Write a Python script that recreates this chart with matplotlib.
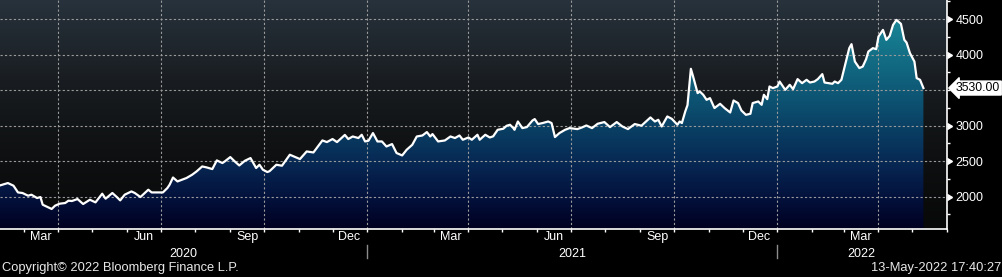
import matplotlib
matplotlib.use("Agg")
from matplotlib import pyplot as plt
from matplotlib.colors import LinearSegmentedColormap
import matplotlib.dates as mdates
import numpy as np
import pandas as pd

dates = [
    "2020-02-09", "2020-02-16", "2020-02-21", "2020-02-25", "2020-02-29", "2020-03-05", "2020-03-08",
    "2020-03-13", "2020-03-16", "2020-03-18", "2020-03-23", "2020-03-26", "2020-03-29", "2020-04-02",
    "2020-04-07", "2020-04-10", "2020-04-13", "2020-04-18", "2020-04-23", "2020-04-29", "2020-05-04",
    "2020-05-10", "2020-05-13", "2020-05-19", "2020-05-23", "2020-05-26", "2020-05-30", "2020-06-05",
    "2020-06-08", "2020-06-13", "2020-06-20", "2020-06-23", "2020-07-03", "2020-07-07", "2020-07-09",
    "2020-07-12", "2020-07-16", "2020-07-20", "2020-07-24", "2020-07-29", "2020-08-02", "2020-08-07",
    "2020-08-11", "2020-08-16", "2020-08-20", "2020-08-25", "2020-08-27", "2020-09-01", "2020-09-05",
    "2020-09-09", "2020-09-14", "2020-09-19", "2020-09-24", "2020-09-27", "2020-09-30", "2020-10-04",
    "2020-10-06", "2020-10-12", "2020-10-17", "2020-10-24", "2020-10-29", "2020-11-02", "2020-11-08",
    "2020-11-14", "2020-11-18", "2020-11-22", "2020-11-26", "2020-12-01", "2020-12-05", "2020-12-09",
    "2020-12-12", "2020-12-15", "2020-12-19", "2020-12-24", "2020-12-27", "2020-12-30", "2021-01-02",
    "2021-01-06", "2021-01-10", "2021-01-14", "2021-01-18", "2021-01-23", "2021-01-27", "2021-02-01",
    "2021-02-05", "2021-02-10", "2021-02-14", "2021-02-19", "2021-02-23", "2021-02-26", "2021-02-28",
    "2021-03-05", "2021-03-11", "2021-03-16", "2021-03-20", "2021-03-24", "2021-03-27", "2021-04-01",
    "2021-04-04", "2021-04-09", "2021-04-11", "2021-04-16", "2021-04-20", "2021-04-23", "2021-04-27",
    "2021-05-02", "2021-05-05", "2021-05-08", "2021-05-11", "2021-05-12", "2021-05-15", "2021-05-19",
    "2021-05-23", "2021-05-28", "2021-05-30", "2021-06-02", "2021-06-06", "2021-06-11", "2021-06-14",
    "2021-06-17", "2021-06-21", "2021-06-26", "2021-06-30", "2021-07-07", "2021-07-11", "2021-07-15",
    "2021-07-20", "2021-07-25", "2021-07-31", "2021-08-05", "2021-08-11", "2021-08-16", "2021-08-21",
    "2021-08-27", "2021-09-02", "2021-09-10", "2021-09-14", "2021-09-17", "2021-09-20", "2021-09-25",
    "2021-09-29", "2021-10-04", "2021-10-06", "2021-10-08", "2021-10-11", "2021-10-13", "2021-10-16",
    "2021-10-18", "2021-10-20", "2021-10-22", "2021-10-24", "2021-10-27", "2021-10-30", "2021-11-02",
    "2021-11-06", "2021-11-11", "2021-11-15", "2021-11-20", "2021-11-23", "2021-11-27", "2021-11-30",
    "2021-12-04", "2021-12-08", "2021-12-10", "2021-12-15", "2021-12-18", "2021-12-20", "2021-12-23",
    "2021-12-25", "2021-12-28", "2022-01-01", "2022-01-03", "2022-01-08", "2022-01-12", "2022-01-15",
    "2022-01-19", "2022-01-23", "2022-01-27", "2022-01-30", "2022-02-03", "2022-02-06", "2022-02-10",
    "2022-02-12", "2022-02-19", "2022-02-21", "2022-02-24", "2022-02-27", "2022-03-03", "2022-03-06",
    "2022-03-08", "2022-03-11", "2022-03-15", "2022-03-18", "2022-03-21", "2022-03-23", "2022-03-27",
    "2022-03-30", "2022-04-01", "2022-04-05", "2022-04-08", "2022-04-11", "2022-04-14", "2022-04-17",
    "2022-04-21", "2022-04-24", "2022-04-26", "2022-04-29", "2022-05-03", "2022-05-05", "2022-05-08",
    "2022-05-11",
]
prices = [
    2159, 2192, 2155, 2060, 2052, 2014, 2028,
    1981, 1995, 1887, 1849, 1827, 1873, 1901,
    1911, 1944, 1939, 1967, 1897, 1957, 1920,
    2042, 1972, 2052, 1995, 1948, 2028, 2074,
    2052, 1995, 2098, 2060, 2060, 2122, 2169,
    2270, 2215, 2239, 2263, 2309, 2356, 2426,
    2412, 2389, 2511, 2474, 2496, 2558, 2496,
    2440, 2506, 2544, 2404, 2450, 2380, 2347,
    2360, 2450, 2436, 2591, 2558, 2530, 2637,
    2623, 2707, 2792, 2769, 2812, 2769, 2826,
    2870, 2812, 2848, 2826, 2872, 2778, 2788,
    2896, 2778, 2778, 2707, 2741, 2615, 2581,
    2661, 2731, 2848, 2862, 2910, 2848, 2882,
    2778, 2792, 2848, 2826, 2862, 2802, 2834,
    2802, 2872, 2802, 2872, 2834, 2850, 2942,
    2957, 2999, 3013, 2966, 2942, 3059, 2966,
    2980, 3073, 3093, 3023, 3037, 3059, 3037,
    2840, 2896, 2942, 2966, 2952, 2975, 3003,
    2966, 3027, 3051, 2980, 3051, 2989, 2952,
    3023, 3000, 3116, 3059, 3083, 2989, 3130,
    3097, 3013, 3059, 3037, 3200, 3290, 3801,
    3692, 3576, 3459, 3481, 3435, 3364, 3388,
    3248, 3308, 3248, 3186, 3355, 3318, 3214,
    3153, 3168, 3318, 3341, 3294, 3435, 3374,
    3552, 3529, 3552, 3622, 3505, 3576, 3515,
    3656, 3599, 3646, 3608, 3622, 3656, 3726,
    3608, 3590, 3622, 3599, 3646, 3903, 4092,
    4148, 3903, 3811, 3833, 3937, 4044, 4092,
    4078, 4255, 4349, 4209, 4265, 4420, 4490,
    4434, 4209, 4171, 4022, 3903, 3670, 3646,
    3530,
]
last_value = 3530.00

y_ticks = [2000, 2500, 3000, 3500, 4000, 4500]
month_names = {3: "Mar", 6: "Jun", 9: "Sep", 12: "Dec"}
years = [2020, 2021, 2022]
footer_left = "Copyright\u00a9 2022 Bloomberg Finance L.P."
footer_right = "13-May-2022 17:40:27"

plt.rcParams["font.family"] = ["Liberation Sans", "DejaVu Sans"]

x = mdates.date2num(pd.to_datetime(dates))
y = np.array(prices, dtype=float)
xmin = mdates.date2num(pd.Timestamp("2020-02-09"))
xmax = mdates.date2num(pd.Timestamp("2022-05-31"))
ymin, ymax = 1545, 4770

fig = plt.figure(figsize=(10.03, 2.77), dpi=100, facecolor="black")
ax = fig.add_axes([0, 48 / 277, 947 / 1003, 229 / 277])

# panel background: dark slate at the top fading to black
bg_cmap = LinearSegmentedColormap.from_list(
    "bg", [(0, "#080808"), (0.35, "#0f1112"), (0.65, "#191d21"), (1, "#27323c")])
ax.imshow(np.linspace(0, 1, 256).reshape(-1, 1), extent=[0, 1, 0, 1], transform=ax.transAxes,
          origin="lower", aspect="auto", cmap=bg_cmap, zorder=0)

# area under the line with a vertical gradient
fill_cmap = LinearSegmentedColormap.from_list(
    "fill", [(0, "#000020"), (0.14, "#03123d"), (0.30, "#072a55"), (0.45, "#0a4165"),
             (0.60, "#0e5876"), (0.76, "#136f86"), (0.92, "#198797"), (1, "#1c92a2")])
poly = ax.fill_between(x, y, ymin, facecolor="none", edgecolor="none")
img = ax.imshow(np.linspace(0, 1, 256).reshape(-1, 1), extent=[xmin, xmax, ymin, ymax],
                origin="lower", aspect="auto", cmap=fill_cmap, zorder=1)
img.set_clip_path(poly.get_paths()[0], ax.transData)

# dotted grid
for v in y_ticks:
    ax.axhline(v, color="#9a9a9a", lw=0.8, ls=(0, (2, 2)), zorder=2)
quarters = pd.date_range("2020-04-01", "2022-04-01", freq="QS")
for q in quarters:
    ax.axvline(mdates.date2num(q), color="#9a9a9a", lw=0.8, ls=(0, (2, 2)), zorder=2)

ax.plot(x, y, color="white", lw=1.6, zorder=3, solid_joinstyle="round")

ax.set_xlim(xmin, xmax)
ax.set_ylim(ymin, ymax)

for s in ["top", "left"]:
    ax.spines[s].set_visible(False)
for s in ["bottom", "right"]:
    ax.spines[s].set_color("white")
    ax.spines[s].set_linewidth(1.2)
    ax.spines[s].set_zorder(4)

# x axis: month ticks, quarter month names centred in month
months = pd.date_range("2020-03-01", "2022-06-01", freq="MS")
ax.set_xticks(mdates.date2num(months))
ax.set_xticklabels([])
lab_pos, lab_txt = [], []
for m in months:
    if m.month in month_names and m < pd.Timestamp("2022-05-01"):
        lab_pos.append(mdates.date2num(m + pd.Timedelta(days=15)))
        lab_txt.append(month_names[m.month])
ax.set_xticks(lab_pos, minor=True)
ax.set_xticklabels(lab_txt, minor=True)
ax.tick_params(axis="x", which="major", direction="out", length=2.5, width=1, color="white")
ax.tick_params(axis="x", which="minor", length=0, pad=1.5, labelsize=9, labelcolor="white")

xt = ax.get_xaxis_transform()
for yr in years:
    a = max(xmin, mdates.date2num(pd.Timestamp(f"{yr}-01-01")))
    b = min(xmax, mdates.date2num(pd.Timestamp(f"{yr + 1}-01-01")))
    ax.text((a + b) / 2, -0.108, str(yr), transform=xt, ha="center", va="center",
            color="white", fontsize=9)
    if yr > years[0]:
        ax.plot([a, a], [-0.068, -0.128], transform=xt, color="#8c8c8c", lw=1, clip_on=False)

# right y axis
ax.yaxis.tick_right()
ax.set_yticks(y_ticks)
ax.set_yticklabels([str(v) if v != 3500 else "" for v in y_ticks])
ax.set_yticks(np.arange(1750, 4800, 500), minor=True)
ax.tick_params(axis="y", which="both", direction="out", length=2.5, width=1, color="white",
               pad=3.5, labelsize=9, labelcolor="white")
tri = [v for v in y_ticks if v != 3500]
ax.plot([1] * len(tri), tri, ls="none", marker=9, ms=5, color="white",
        transform=ax.get_yaxis_transform(), clip_on=False, zorder=5)

ax.text(1.0095, last_value, f"{last_value:.2f}", transform=ax.get_yaxis_transform(),
        ha="left", va="center", color="black", fontsize=8.8, zorder=6,
        bbox=dict(boxstyle="larrow,pad=0.08", fc="white", ec="white"))

fig.text(2 / 1003, 1 - 268 / 277, footer_left, ha="left", va="center", color="#e8e8e8",
         fontsize=9.3)
fig.text(1001 / 1003, 1 - 268 / 277, footer_right, ha="right", va="center", color="#e8e8e8",
         fontsize=9.3)

fig.savefig("out.png", dpi=100, facecolor="black")
